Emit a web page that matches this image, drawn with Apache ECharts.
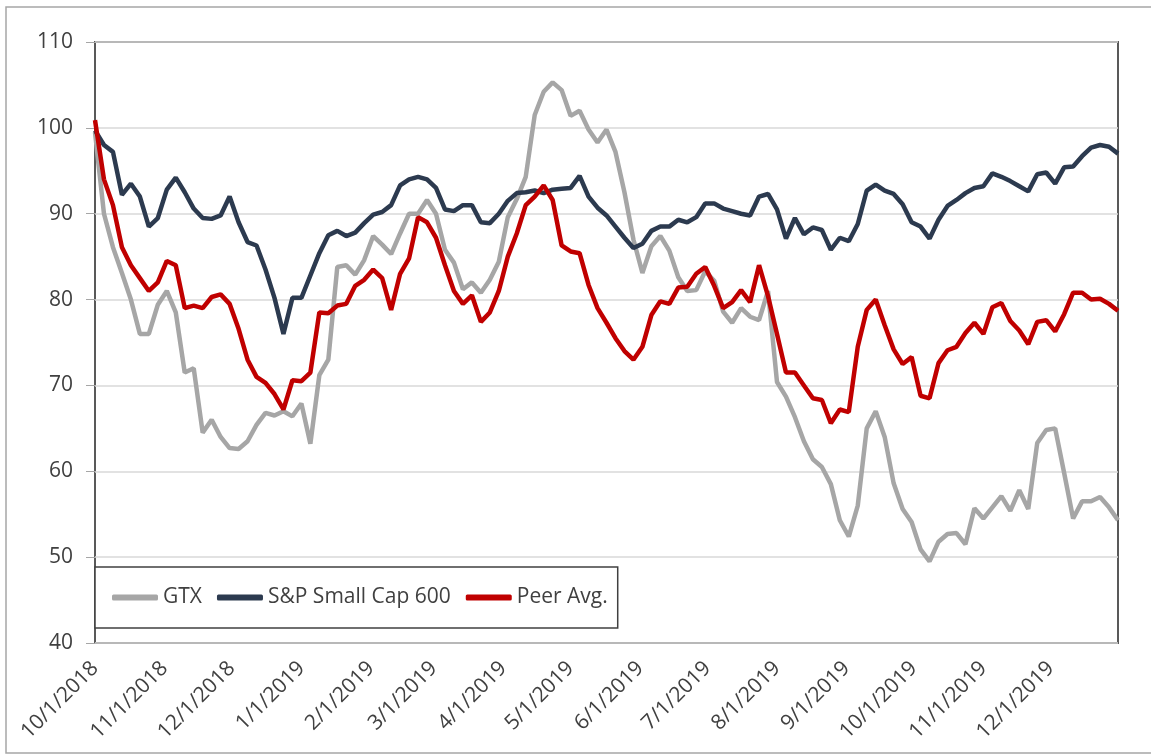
<!DOCTYPE html>
<html>
<head>
<meta charset="utf-8">
<script src="https://cdn.jsdelivr.net/npm/echarts@6/dist/echarts.min.js"></script>
<style>
  html, body { margin: 0; padding: 0; background: #fff; }
  #main { width: 1151px; height: 754px; }
</style>
</head>
<body>
<div id="main"></div>
<script>
// dates every 4 days, 10/1/2018 .. 12/31/2019
const dates = [
  '2018-10-01','2018-10-05','2018-10-09','2018-10-13','2018-10-17','2018-10-21','2018-10-25','2018-10-29',
  '2018-11-02','2018-11-06','2018-11-10','2018-11-14','2018-11-18','2018-11-22','2018-11-26','2018-11-30',
  '2018-12-04','2018-12-08','2018-12-12','2018-12-16','2018-12-20','2018-12-24','2018-12-28',
  '2019-01-01','2019-01-05','2019-01-09','2019-01-13','2019-01-17','2019-01-21','2019-01-25','2019-01-29',
  '2019-02-02','2019-02-06','2019-02-10','2019-02-14','2019-02-18','2019-02-22','2019-02-26',
  '2019-03-02','2019-03-06','2019-03-10','2019-03-14','2019-03-18','2019-03-22','2019-03-26','2019-03-30',
  '2019-04-03','2019-04-07','2019-04-11','2019-04-15','2019-04-19','2019-04-23','2019-04-27',
  '2019-05-01','2019-05-05','2019-05-09','2019-05-13','2019-05-17','2019-05-21','2019-05-25','2019-05-29',
  '2019-06-02','2019-06-06','2019-06-10','2019-06-14','2019-06-18','2019-06-22','2019-06-26','2019-06-30',
  '2019-07-04','2019-07-08','2019-07-12','2019-07-16','2019-07-20','2019-07-24','2019-07-28',
  '2019-08-01','2019-08-05','2019-08-09','2019-08-13','2019-08-17','2019-08-21','2019-08-25','2019-08-29',
  '2019-09-02','2019-09-06','2019-09-10','2019-09-14','2019-09-18','2019-09-22','2019-09-26','2019-09-30',
  '2019-10-04','2019-10-08','2019-10-12','2019-10-16','2019-10-20','2019-10-24','2019-10-28',
  '2019-11-01','2019-11-05','2019-11-09','2019-11-13','2019-11-17','2019-11-21','2019-11-25','2019-11-29',
  '2019-12-03','2019-12-07','2019-12-11','2019-12-15','2019-12-19','2019-12-23','2019-12-27','2019-12-31'
];

const gtx = [
  99.5, 90, 86.1, 83.1, 80, 76, 76, 79.4,
  81, 78.5, 71.5, 72, 64.5, 66, 64, 62.7,
  62.6, 63.5, 65.4, 66.8, 66.5, 67, 66.4,
  67.9, 63.2, 71.2, 73, 83.8, 84, 82.9, 84.6,
  87.4, 86.4, 85.3, 87.7, 90, 90, 91.6,
  90, 85.8, 84.3, 81.2, 82, 80.8, 82.3, 84.4,
  89.6, 91.7, 94.3, 101.5, 104.2, 105.3, 104.4,
  101.4, 102, 99.8, 98.3, 99.8, 97.2, 92.5, 87,
  83.1, 86.2, 87.4, 85.7, 82.6, 81, 81.1, 83.3,
  82.2, 78.6, 77.3, 79, 78, 77.6, 81,
  70.4, 68.7, 66.3, 63.5, 61.4, 60.5, 58.5, 54.3,
  52.4, 56, 65, 67, 64, 58.6, 55.6, 54.1,
  50.9, 49.5, 51.8, 52.7, 52.8, 51.5, 55.7,
  54.5, 55.8, 57.1, 55.4, 57.8, 55.6, 63.3, 64.8,
  65, 59.8, 54.5, 56.5, 56.5, 57, 55.8, 54.3
];

const sp600 = [
  99.7, 98, 97.2, 92.2, 93.5, 92, 88.5, 89.5,
  92.8, 94.2, 92.5, 90.6, 89.5, 89.4, 89.8, 92,
  89, 86.7, 86.3, 83.5, 80.2, 76, 80.2,
  80.2, 82.8, 85.4, 87.5, 88, 87.4, 87.8, 88.9,
  89.9, 90.2, 91, 93.3, 94, 94.3, 94,
  93, 90.5, 90.3, 91, 91, 89, 88.9, 90,
  91.5, 92.4, 92.5, 92.7, 92.4, 92.8, 92.9,
  93, 94.4, 92, 90.7, 89.8, 88.5, 87.2, 86,
  86.5, 88, 88.5, 88.5, 89.3, 89, 89.6, 91.2,
  91.2, 90.6, 90.3, 90, 89.8, 92, 92.3,
  90.5, 87.1, 89.5, 87.6, 88.4, 88.1, 85.8, 87.2,
  86.8, 88.8, 92.7, 93.4, 92.7, 92.3, 91.1, 89,
  88.5, 87.1, 89.3, 90.9, 91.6, 92.4, 93,
  93.2, 94.7, 94.3, 93.8, 93.2, 92.6, 94.6, 94.8,
  93.5, 95.4, 95.5, 96.7, 97.7, 98, 97.8, 97
];

const peerAvg = [
  100.9, 94, 91, 86.1, 84, 82.5, 81, 82,
  84.5, 84, 79, 79.3, 79, 80.3, 80.6, 79.5,
  76.6, 73, 71, 70.3, 69, 67.2, 70.6,
  70.5, 71.5, 78.5, 78.4, 79.3, 79.5, 81.6, 82.3,
  83.5, 82.5, 78.8, 83, 84.8, 89.6, 89,
  87.2, 84, 81, 79.5, 80.5, 77.4, 78.5, 81,
  85, 87.7, 91, 92, 93.3, 91.6, 86.3,
  85.6, 85.4, 81.7, 79, 77.3, 75.5, 74, 73,
  74.5, 78.2, 79.8, 79.5, 81.4, 81.5, 83, 83.8,
  81.6, 79, 79.7, 81.1, 79.7, 84, 80.4,
  76, 71.5, 71.5, 70, 68.5, 68.3, 65.6, 67.2,
  66.9, 74.5, 78.8, 80, 77, 74.2, 72.5, 73.3,
  68.8, 68.5, 72.6, 74.1, 74.5, 76.1, 77.3,
  76, 79.1, 79.6, 77.5, 76.4, 74.8, 77.4, 77.6,
  76.3, 78.3, 80.8, 80.8, 80, 80.1, 79.5, 78.7
];

// month-start tick labels on the date axis
const monthTicks = [
  '2018-10-01','2018-11-01','2018-12-01','2019-01-01','2019-02-01','2019-03-01','2019-04-01',
  '2019-05-01','2019-06-01','2019-07-01','2019-08-01','2019-09-01','2019-10-01','2019-11-01','2019-12-01'
];

const ts = s => new Date(s + 'T00:00:00').getTime();
const pairs = vals => dates.map((d, i) => [ts(d), vals[i]]);

const chart = echarts.init(document.getElementById('main'));
const font = "'Open Sans', 'Liberation Sans', sans-serif";

chart.setOption({
  animation: false,
  backgroundColor: '#fff',
  graphic: [{
    type: 'rect',
    shape: { x: 6, y: 7, width: 1152, height: 746 },
    style: { fill: 'none', stroke: '#a6a6a6', lineWidth: 1.5 },
    silent: true
  }],
  grid: {
    left: 95, right: 33, top: 42, bottom: 111,
    show: true, borderColor: '#595959', borderWidth: 2
  },
  legend: {
    left: 95, top: 567,
    padding: [20, 10, 20, 17],
    backgroundColor: '#fff',
    borderColor: '#404040',
    borderWidth: 1.5,
    icon: 'roundRect',
    itemWidth: 46, itemHeight: 6, itemGap: 15,
    textStyle: { fontFamily: font, fontSize: 21, color: '#404040' },
    data: ['GTX', 'S&P Small Cap 600', 'Peer Avg.']
  },
  xAxis: {
    type: 'value',
    min: ts('2018-10-01'),
    max: ts('2019-12-31'),
    axisLine: { show: false },
    axisTick: { show: false },
    splitLine: { show: false },
    axisLabel: {
      customValues: monthTicks.map(ts),
      rotate: 45,
      margin: 22,
      fontFamily: font,
      fontSize: 21,
      color: '#404040',
      formatter: v => {
        const d = new Date(v);
        return (d.getMonth() + 1) + '/' + d.getDate() + '/' + d.getFullYear();
      }
    }
  },
  yAxis: {
    type: 'value',
    min: 40, max: 110, interval: 10,
    axisLine: { show: false },
    axisTick: { show: true, length: 9, lineStyle: { color: '#a6a6a6' } },
    splitLine: { lineStyle: { color: '#d9d9d9', width: 1.5 } },
    axisLabel: { margin: 22, fontFamily: font, fontSize: 21, color: '#404040' }
  },
  series: [
    {
      name: 'GTX', type: 'line', data: pairs(gtx), showSymbol: false,
      color: '#a6a6a6', lineStyle: { width: 4.5, color: '#a6a6a6' }, z: 2
    },
    {
      name: 'S&P Small Cap 600', type: 'line', data: pairs(sp600), showSymbol: false,
      color: '#2c3a4f', lineStyle: { width: 4.5, color: '#2c3a4f' }, z: 3
    },
    {
      name: 'Peer Avg.', type: 'line', data: pairs(peerAvg), showSymbol: false,
      color: '#c00000', lineStyle: { width: 4.5, color: '#c00000' }, z: 4
    }
  ]
});
</script>
</body>
</html>
